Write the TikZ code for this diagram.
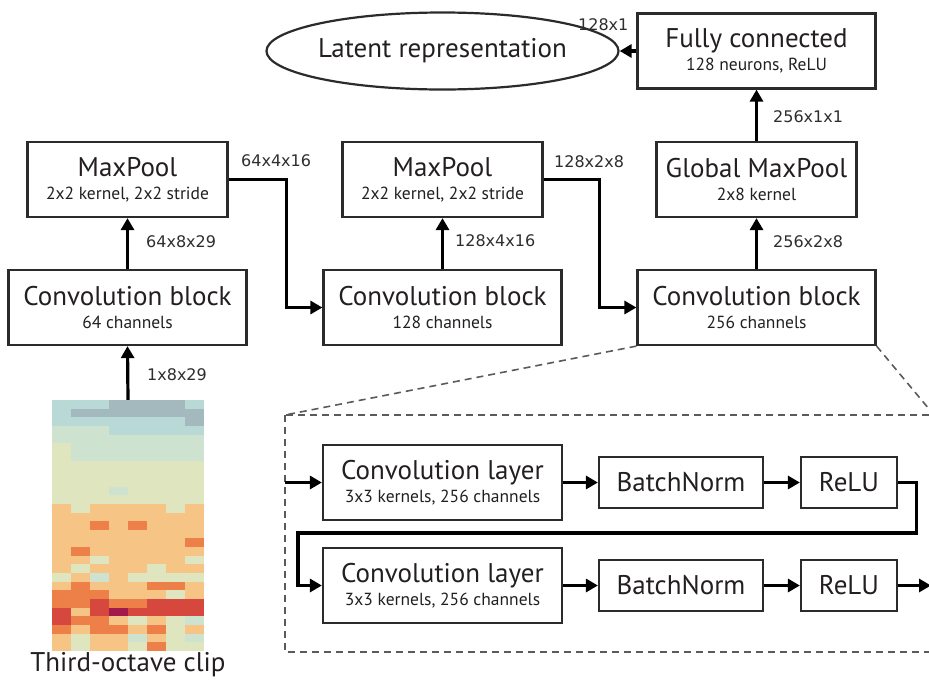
\documentclass[tikz,border=0pt]{standalone}
\usepackage{fontspec}
\setmainfont{PT Sans}
\newfontfamily\dimfont{DejaVu Sans}
\usepackage{tikz}
\usetikzlibrary{arrows.meta}
\usetikzlibrary{shapes.geometric}

% heatmap palette
\definecolor{hmA}{HTML}{A3B9BD}
\definecolor{hmB}{HTML}{B8D9D5}
\definecolor{hmC}{HTML}{CDE3CF}
\definecolor{hmD}{HTML}{DFE6BF}
\definecolor{hmE}{HTML}{F6C585}
\definecolor{hmF}{HTML}{EC8048}
\definecolor{hmG}{HTML}{D6473D}
\definecolor{hmH}{HTML}{A2194C}
\definecolor{boxline}{HTML}{2B2B2B}
\definecolor{textblack}{HTML}{231F20}
\definecolor{dimgray}{HTML}{2E2E2E}
\definecolor{zoomgray}{HTML}{5A5A5A}

\newcommand{\subline}[1]{{\fontsize{17.5}{18}\selectfont #1}}

\begin{document}
\begin{tikzpicture}[
     x = 1pt, y = -1pt,
   box/.style = {draw=boxline, line width=2.2pt, minimum width=238pt,
                 minimum height=75pt, inner sep=0pt, align=center,
                 text=textblack, font=\fontsize{27}{22.5}\selectfont},
  pool/.style = {box, minimum width=200pt},
 opbox/.style = {box, minimum height=51pt},
   dim/.style = {anchor=west, inner sep=0pt, text=dimgray,
                 font=\dimfont\fontsize{16}{16}\selectfont},
   arr/.style = {line width=3.2pt, -{Triangle[length=12pt,width=13pt]}},
 zoomline/.style = {draw=zoomgray, line width=1.6pt, dash pattern=on 7pt off 5pt}
                   ]
\useasboundingbox (0,0) rectangle (929,681);

% input clip
\foreach \row [count=\r from 0] in {
    {B,B,B,A,A,A,A,B}, {B,A,A,A,A,A,A,A}, {B,B,B,B,B,B,B,A},
    {C,C,C,B,B,B,B,B}, {C,C,C,C,C,C,C,C}, {D,C,C,C,C,C,C,C},
    {D,C,C,C,C,C,C,C}, {D,D,D,D,D,D,D,D}, {D,D,D,D,D,D,D,D},
    {D,D,D,D,D,D,D,D}, {D,D,D,C,D,D,D,D}, {D,D,D,D,D,D,D,D},
    {E,D,E,E,E,E,D,E}, {E,E,E,E,E,E,E,E}, {E,E,F,E,F,E,E,E},
    {E,E,E,E,E,E,E,E}, {E,E,E,E,E,E,E,F}, {E,F,E,E,E,E,E,E},
    {E,E,D,E,E,E,E,D}, {E,D,E,E,E,D,E,E}, {D,E,C,E,D,D,D,D},
    {E,F,E,E,E,F,F,E}, {F,F,F,E,E,E,D,E}, {F,F,G,F,F,G,G,G},
    {G,E,G,H,G,G,G,G}, {G,F,F,E,D,E,D,C}, {F,E,F,F,E,F,D,E},
    {E,D,E,E,C,E,D,C}, {E,D,E,E,D,F,D,D}}
  \foreach \cell [count=\c from 0] in \row
    \fill[hm\cell] (52+19*\c, 400+8.655*\r) rectangle ++(19.3, 8.9);
\node[minimum width=152pt, minimum height=251pt, inner sep=0pt] (clip) at (128,525.5) {};
\node[inner sep=0pt, text=textblack, font=\fontsize{27}{27}\selectfont] (cliplabel) at (128,665) {Third-octave clip};

% main chain
\node[box]  (convA) at (127.5,307.5) {Convolution block\\\subline{64 channels}};
\node[pool] (poolA) at (127.5,179.5) {MaxPool\\\subline{2x2 kernel, 2x2 stride}};
\node[box]  (convB) at (442.5,307.5) {Convolution block\\\subline{128 channels}};
\node[pool] (poolB) at (442.5,179.5) {MaxPool\\\subline{2x2 kernel, 2x2 stride}};
\node[box]  (convC) at (756.5,307.5) {Convolution block\\\subline{256 channels}};
\node[pool] (gpool) at (756.5,179.5) {Global MaxPool\\\subline{2x8 kernel}};
\node[box]  (fc)    at (756.5,51)    {Fully connected\\\subline{128 neurons, ReLU}};
\node[ellipse, draw=boxline, line width=2.2pt, minimum width=283pt,
      minimum height=77pt, inner sep=0pt, text=textblack,
      font=\fontsize{27}{27}\selectfont] (latent) at (442.5,51) {Latent representation};

\draw[arr] (clip.north) -- (convA.south);
\draw[arr] (convA) -- (poolA);
\draw[arr] (poolA.east) -- ++(58,0) |- (convB.west);
\draw[arr] (convB) -- (poolB);
\draw[arr] (poolB.east) -- ++(56,0) |- (convC.west);
\draw[arr] (convC) -- (gpool);
\draw[arr] (gpool) -- (fc);
\draw[arr] (fc) -- (latent);

\node[dim] (dimIn)    at (147,375) {1x8x29};
\node[dim] (dimConvA) at (146,242) {64x8x29};
\node[dim] (dimPoolA) at (241,161) {64x4x16};
\node[dim] (dimConvB) at (455,241) {128x4x16};
\node[dim] (dimPoolB) at (554,162) {128x2x8};
\node[dim] (dimConvC) at (773,242) {256x2x8};
\node[dim] (dimGpool) at (773,117) {256x1x1};
\node[dim] (dimFc)    at (578,25)  {128x1};

% inside the convolution block
\coordinate (zoomNW) at (285,415);
\coordinate (zoomNE) at (934,415);
\coordinate (zoomSE) at (934,652);
\draw[zoomline] (zoomNW) rectangle (zoomSE);
\draw[zoomline] (convC.south west) -- (zoomNW);
\draw[zoomline] (convC.south east) -- (zoomNE);

\node[box, minimum width=239pt] (layerA) at (442.5,482.5) {Convolution layer\\\subline{3x3 kernels, 256 channels}};
\node[opbox, minimum width=164pt] (bnA)  at (681,482.5) {BatchNorm};
\node[opbox, minimum width=96pt]  (reluA) at (849,482.5) {ReLU};
\node[box, minimum width=239pt] (layerB) at (442.5,585.5) {Convolution layer\\\subline{3x3 kernels, 256 channels}};
\node[opbox, minimum width=164pt] (bnB)  at (681,585.5) {BatchNorm};
\node[opbox, minimum width=96pt]  (reluB) at (849,585.5) {ReLU};

\coordinate (blkin)  at (285,482.5);
\coordinate (turn)   at (298,533);
\coordinate (blkout) at (931,585.5);
\draw[arr] (blkin) -- (layerA);
\draw[arr] (layerA) -- (bnA);
\draw[arr] (bnA) -- (reluA);
\draw[arr] (reluA.east) -- ++(18,0) |- (turn) |- (layerB.west);
\draw[arr] (layerB) -- (bnB);
\draw[arr] (bnB) -- (reluB);
\draw[arr] (reluB) -- (blkout);
\end{tikzpicture}
\end{document}
